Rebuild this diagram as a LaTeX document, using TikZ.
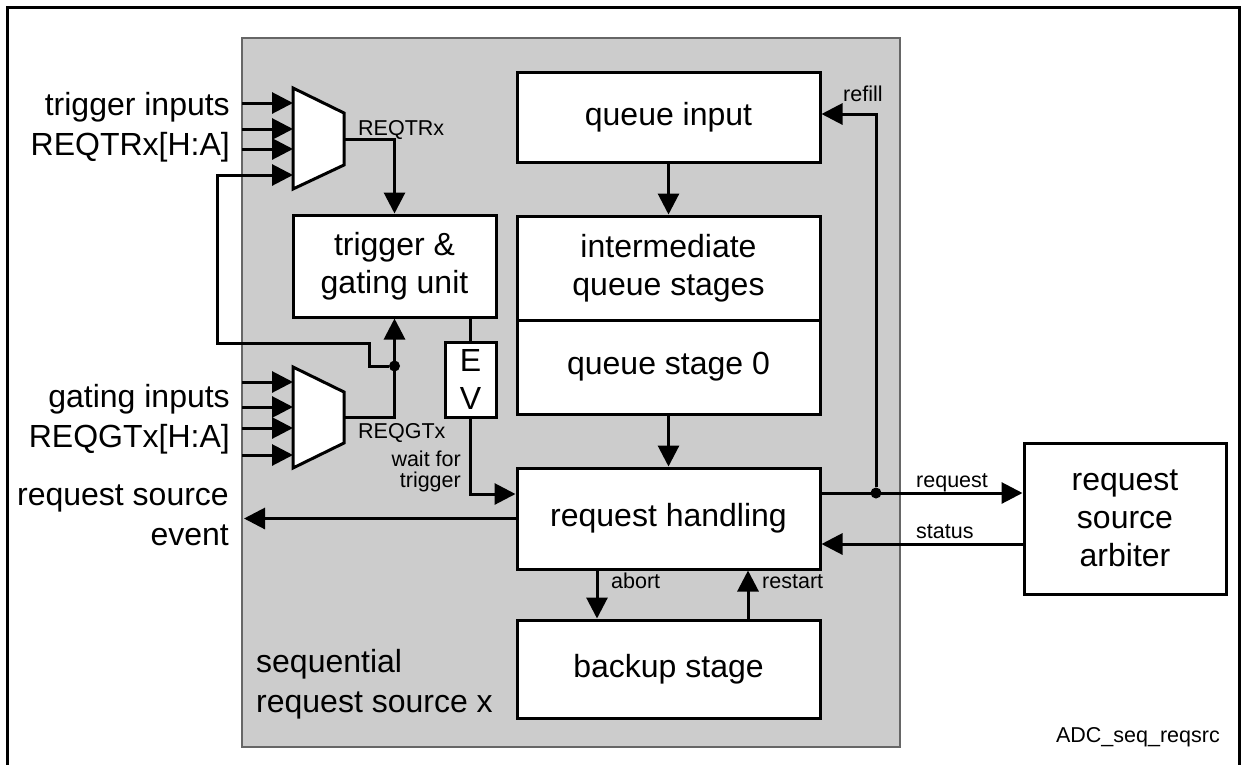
\documentclass[tikz,border=0pt]{standalone}
\usepackage{fontspec}
\setmainfont{Liberation Sans}
\usetikzlibrary{arrows.meta}

\newcommand{\boxfont}{\fontsize{32}{38}\selectfont}
\newcommand{\tagfont}{\fontsize{21.5}{21}\selectfont}

\tikzset{
  block/.style={draw, fill=white, line width=3pt, inner sep=0pt, align=center, font=\boxfont},
  tag/.style={inner sep=0pt, font=\tagfont},
  outer/.style={inner sep=0pt, font=\boxfont},
  wire/.style={line width=3pt},
  sig/.style={line width=3pt, -{Triangle[length=21pt,width=21pt]}},
  mux/.style={draw, fill=white, line width=3pt, line join=miter},
  junction/.style={circle, fill, inner sep=0pt, minimum size=11pt},
}

\begin{document}
\begin{tikzpicture}[x=1pt, y=-1pt]
  \useasboundingbox (0,0) rectangle (1241,764);
  % Frame and request source area.
  \draw[line width=3pt] (7,7) rectangle (1239,772);
  \filldraw[fill=black!20, draw=black!60, line width=1.4pt] (242,38) rectangle (900,747);

  % Queue column.
  \node[block, minimum width=303pt, minimum height=90pt] (qinput) at (668.5,117) {queue input};
  \node[block, minimum width=303pt, minimum height=104pt] (qmid) at (668.5,268) {intermediate\\queue stages};
  \node[block, minimum width=303pt, minimum height=94pt] (qzero) at (668.5,367) {queue stage 0};
  \node[block, minimum width=303pt, minimum height=101pt] (handling) at (668.5,518.5) {request handling};
  \node[block, minimum width=303pt, minimum height=98pt] (backup) at (668.5,669) {backup stage};
  \node[block, minimum width=202pt, minimum height=151pt] (arbiter) at (1125,518.5) {request\\source\\arbiter};

  % Trigger and gating unit.
  \node[block, minimum width=203pt, minimum height=102pt] (gating) at (394.5,266) {trigger \&\\gating unit};
  \node[block, minimum width=51pt, minimum height=75pt] (ev) at (470.5,379.5) {E\\V};

  % Multiplexers.
  \draw[mux] (293,88) -- (344,113) -- (344,165) -- (293,189) -- cycle;
  \draw[mux] (293,367) -- (344,392) -- (344,443) -- (293,468) -- cycle;
  \foreach \y [count=\i] in {103,129,149,175} {
    \coordinate (trin\i) at (293,\y);
  }
  \foreach \y [count=\i] in {103,129,149} {
    \coordinate (trsrc\i) at (242,\y);
    \draw[sig] (trsrc\i) -- (trin\i);
  }
  \foreach \y [count=\i] in {382,407,428,455} {
    \coordinate (gtsrc\i) at (242,\y);
    \coordinate (gtin\i) at (293,\y);
    \draw[sig] (gtsrc\i) -- (gtin\i);
  }
  \coordinate (trout) at (344,139);
  \coordinate (gtout) at (344,417);
  \node[junction] (jgt) at (394.5,366) {};
  \node[junction] (jreq) at (876,493) {};
  \coordinate (eventout) at (244,518.5);

  % Connections.
  \draw[sig] (trout) -| (gating.north);
  \draw[sig] (gtout) -| (gating.south);
  \draw[sig] (jgt) -- (369,366) |- (217,343) |- (trin4);
  \draw[wire] (ev.north) -- (ev.north |- gating.south);
  \draw[sig] (ev.south) |- ([yshift=24.5pt]handling.west);
  \draw[sig] (handling.west) -- (eventout);
  \draw[sig] (qinput.south) -- (qmid.north);
  \draw[sig] (qzero.south) -- (handling.north);
  \draw[sig] ([xshift=-71.5pt]handling.south) -- ([xshift=-71.5pt]backup.north);
  \draw[sig] ([xshift=79.5pt]backup.north) -- ([xshift=79.5pt]handling.south);
  \draw[sig] ([yshift=25.5pt]handling.east) -- ([yshift=25.5pt]arbiter.west);
  \draw[sig] ([yshift=-25.5pt]arbiter.west) -- ([yshift=-25.5pt]handling.east);
  \draw[sig] (jreq) |- ([yshift=3pt]qinput.east);

  % Signal labels.
  \node[tag, anchor=base west] (reqtrx) at (358,135) {REQTRx};
  \node[tag, anchor=base west] (reqgtx) at (358,438) {REQGTx};
  \node[tag, anchor=north east, align=right] (waitlabel) at (461,451) {wait for\\trigger};
  \node[tag, anchor=base west] (abortlabel) at (611,588) {abort};
  \node[tag, anchor=base west] (restartlabel) at (762,588) {restart};
  \node[tag, anchor=base west] (requestlabel) at (916,487) {request};
  \node[tag, anchor=base west] (statuslabel) at (916,538) {status};
  \node[tag, anchor=base west] (refilllabel) at (843,101) {refill};
  \node[tag, anchor=base east] (figname) at (1220,742) {ADC\_seq\_reqsrc};

  % Outer labels.
  \node[outer, anchor=north east, align=right] (trlabel) at (230,92) {trigger inputs\\[2pt]REQTRx[H:A]};
  \node[outer, anchor=north east, align=right] (gtlabel) at (230,384) {gating inputs\\[2pt]REQGTx[H:A]};
  \node[outer, anchor=north east, align=right] (eventlabel) at (229,485) {request source\\[2pt]event};
  \node[outer, anchor=north west, align=left] (srclabel) at (256,649) {sequential\\[2pt]request source x};
\end{tikzpicture}
\end{document}
